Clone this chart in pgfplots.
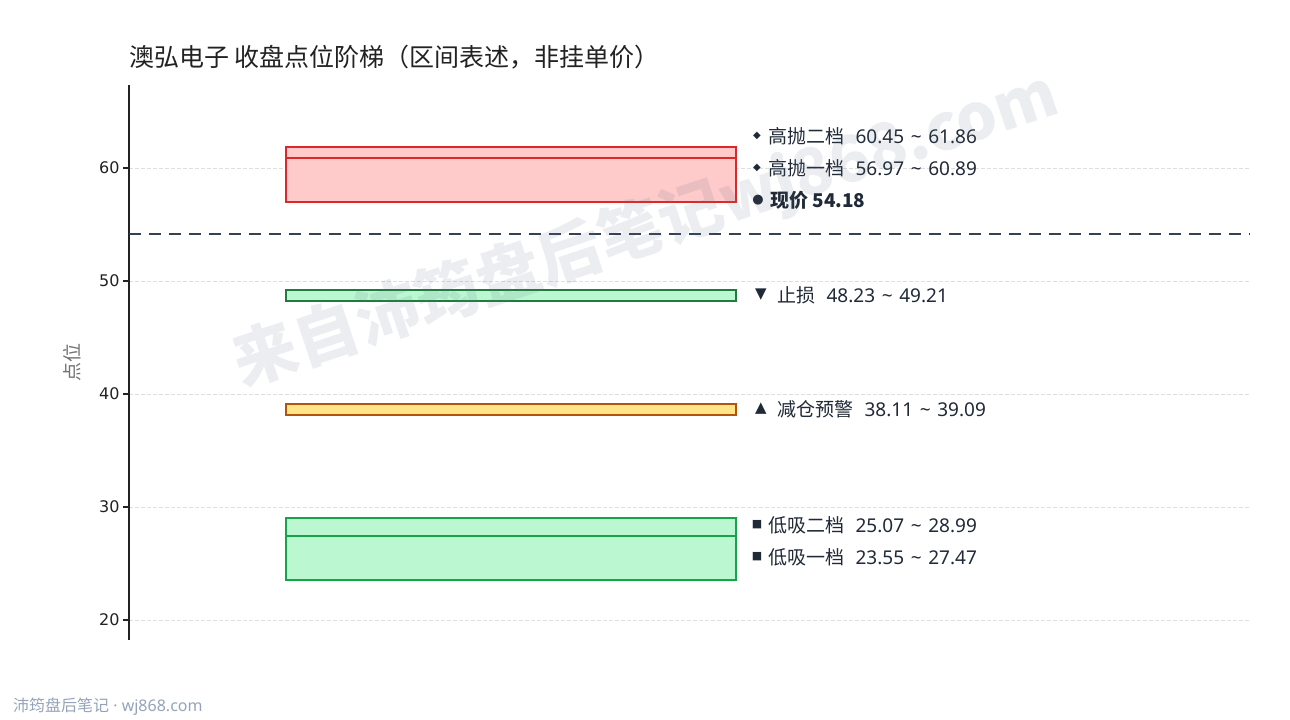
\documentclass[border=0pt]{standalone}
\usepackage{fontspec}
\usepackage{pgfplots}
\pgfplotsset{compat=1.18}
\setmainfont{Noto Sans CJK SC}
\newfontfamily\dejavu{DejaVu Sans}
\newfontfamily\lat{Noto Sans}

\definecolor{txt}{HTML}{1F2937}
\definecolor{ttl}{HTML}{222222}
\definecolor{hiedge}{HTML}{DC2828}
\definecolor{hifill}{HTML}{FECACA}
\definecolor{stopedge}{HTML}{1E7D3E}
\definecolor{greenfill}{HTML}{BBF7D0}
\definecolor{warnedge}{HTML}{B45309}
\definecolor{warnfill}{HTML}{FDE68A}
\definecolor{lowedge}{HTML}{16A34A}
\definecolor{nowline}{HTML}{334155}
\definecolor{foot}{HTML}{94A3B8}
\definecolor{wm}{HTML}{64748B}

\newcommand{\fs}[1]{\fontsize{#1bp}{#1bp}\selectfont}
% zone label: name, low, high
\newcommand{\zone}[3]{\fs{19}#1\hspace{0.6em}{\lat #2\hspace{0.35em}\textasciitilde\hspace{0.35em}#3}}

\begin{document}
\begin{tikzpicture}[x=1bp,y=1bp]
\path (0,0) rectangle (1290,720);

\begin{axis}[
    at={(129bp,80bp)}, anchor=south west,
    scale only axis, width=1121bp, height=555bp,
    xmin=129, xmax=1250, ymin=18.23, ymax=67.345,
    axis x line=none, axis y line*=left,
    axis line style={color=ttl, line width=1.8bp},
    xtick=\empty, ytick={20,30,40,50,60},
    tick align=outside, major tick length=6bp,
    tick style={color=ttl, line width=1.2bp},
    /pgf/number format/assume math mode=true,
    yticklabel style={font=\dejavu\fs{16}, color=ttl},
    ymajorgrids, grid style={color=black!13, line width=0.8bp, dash pattern=on 4bp off 2bp},
    clip=false,
]
% high zones
\addplot[fill=hifill, draw=hiedge, line width=2bp] coordinates {(286,60.45) (736,60.45) (736,61.86) (286,61.86)} --cycle;
\addplot[fill=hifill, draw=hiedge, line width=2bp] coordinates {(286,56.97) (736,56.97) (736,60.89) (286,60.89)} --cycle;
% stop loss
\addplot[fill=greenfill, draw=stopedge, line width=2bp] coordinates {(286,48.23) (736,48.23) (736,49.21) (286,49.21)} --cycle;
% warning
\addplot[fill=warnfill, draw=warnedge, line width=2bp] coordinates {(286,38.11) (736,38.11) (736,39.09) (286,39.09)} --cycle;
% low zones
\addplot[fill=greenfill, draw=lowedge, line width=2bp] coordinates {(286,25.07) (736,25.07) (736,28.99) (286,28.99)} --cycle;
\addplot[fill=greenfill, draw=lowedge, line width=2bp] coordinates {(286,23.55) (736,23.55) (736,27.47) (286,27.47)} --cycle;
% current price
\addplot[color=nowline, line width=2bp, dash pattern=on 12bp off 8bp] coordinates {(129,54.18) (1250,54.18)};

\begin{scope}[every node/.style={color=txt, inner sep=0pt}]
\node at (axis cs:757,62.83) {\dejavu\fs{10}◆};
\node[anchor=west] at (axis cs:768,62.83) {\zone{高抛二档}{60.45}{61.86}};
\node at (axis cs:757,60.0) {\dejavu\fs{10}◆};
\node[anchor=west] at (axis cs:768,60.0) {\zone{高抛一档}{56.97}{60.89}};
\node at (axis cs:758,57.17) {\dejavu\fs{13}●};
\node[anchor=west] at (axis cs:770,57.17) {\fs{19}\bfseries 现价 54.18};
\node at (axis cs:761,48.76) {\dejavu\fs{15}▼};
\node[anchor=west] at (axis cs:777,48.76) {\zone{止损}{48.23}{49.21}};
\node at (axis cs:761,38.67) {\dejavu\fs{15}▲};
\node[anchor=west] at (axis cs:777,38.67) {\zone{减仓预警}{38.11}{39.09}};
\node at (axis cs:757,28.41) {\dejavu\fs{11}■};
\node[anchor=west] at (axis cs:768,28.41) {\zone{低吸二档}{25.07}{28.99}};
\node at (axis cs:757,25.58) {\dejavu\fs{11}■};
\node[anchor=west] at (axis cs:768,25.58) {\zone{低吸一档}{23.55}{27.47}};
\end{scope}
\end{axis}

% title, axis label, footer
\node[anchor=west, inner sep=0pt, color=ttl] at (129,663) {\fs{25}澳弘电子 收盘点位阶梯（区间表述，非挂单价）};
\node[rotate=90, inner sep=0pt, color=black!55] at (72,357) {\fs{19}点位};
\node[anchor=west, inner sep=0pt, color=foot] at (13,13) {\fs{16}沛筠盘后笔记{\lat{} · wj868.com}};

% watermark
\node[rotate=18.5, inner sep=0pt, color=wm, opacity=0.13] at (646,490) {\fs{64}\bfseries 来自沛筠盘后笔记wj868.com};
\end{tikzpicture}
\end{document}
